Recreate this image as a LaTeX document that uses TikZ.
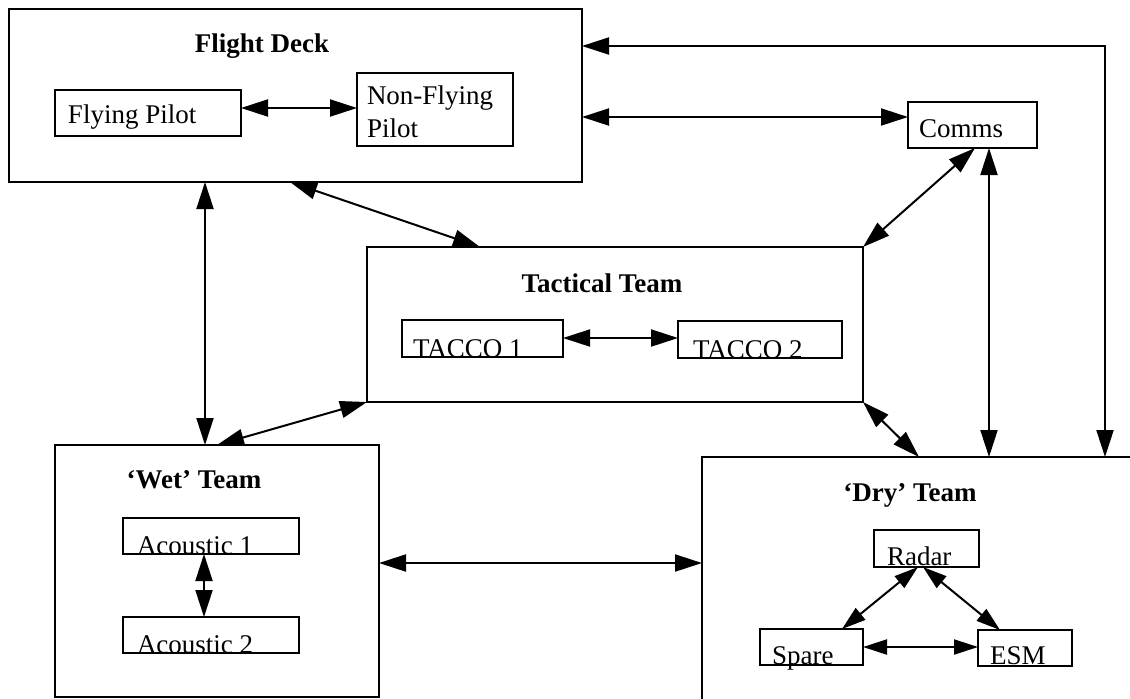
\documentclass[tikz,border=0pt]{standalone}
\usepackage{fontspec}
\setmainfont{Liberation Serif}
\usetikzlibrary{arrows.meta}
\begin{document}
\begin{tikzpicture}[x=0.5pt,y=-0.5pt,
  box/.style={draw, line width=1.3pt, inner sep=0pt, outer sep=0pt, anchor=north west},
  txt/.style={inner sep=0pt, outer sep=0pt, anchor=base west, font=\fontsize{13.5}{16.5}\selectfont},
  ttl/.style={inner sep=0pt, outer sep=0pt, anchor=base, font=\fontsize{13.5}{16.5}\selectfont\bfseries},
  tip/.style={Triangle[length=13.5pt,width=8.5pt]},
  arr/.style={line width=1pt, {Triangle[length=13.5pt,width=8.5pt]}-{Triangle[length=13.5pt,width=8.5pt]}},
  sarr/.style={line width=1pt, {Triangle[length=12pt,width=7.5pt]}-{Triangle[length=12pt,width=7.5pt]}}
]
\useasboundingbox (0,0) rectangle (1130,698);
\fill[white] (0,0) rectangle (1130,698);
\clip (0,0) rectangle (1130,698);

% Flight deck
\node[box, minimum width=286.5pt, minimum height=86.5pt] (fd) at (9,9) {};
\node[ttl] (fdt) at (262,52) {Flight Deck};
\node[box, minimum width=93pt, minimum height=23pt] (fp) at (55,90) {};
\node[txt] (fpt) at (68,123) {Flying Pilot};
\node[box, minimum width=78pt, minimum height=36.5pt] (nfp) at (357,73) {};
\node[txt, anchor=north west, align=left] (nfpt) at (367,86) {Non-Flying\\Pilot};

% Comms
\node[box, minimum width=64.5pt, minimum height=23pt] (cm) at (908,102) {};
\node[txt] (cmt) at (919,137) {Comms};

% Tactical team
\node[box, minimum width=248pt, minimum height=77.5pt] (tt) at (367,247) {};
\node[ttl] (ttt) at (602,292) {Tactical Team};
\node[box, minimum width=80.5pt, minimum height=18.5pt] (t1) at (402,320) {};
\node[txt] (t1t) at (413,357) {TACCO 1};
\node[box, minimum width=82pt, minimum height=18.5pt] (t2) at (678,321) {};
\node[txt] (t2t) at (693,358) {TACCO 2};

% Wet team
\node[box, minimum width=162pt, minimum height=126pt] (wet) at (55,445) {};
\node[ttl] (wett) at (194,488) {‘Wet’ Team};
\node[box, minimum width=88pt, minimum height=18pt] (a1) at (123,518) {};
\node[txt] (a1t) at (137,554) {Acoustic 1};
\node[box, minimum width=88pt, minimum height=18pt] (a2) at (123,617) {};
\node[txt] (a2t) at (137,653) {Acoustic 2};

% Dry team
\node[box, minimum width=219pt, minimum height=126.5pt] (dry) at (702,457) {};
\node[ttl] (dryt) at (910,501) {‘Dry’ Team};
\node[box, minimum width=52.5pt, minimum height=18.5pt] (rad) at (874,530) {};
\node[txt] (radt) at (887,565) {Radar};
\node[box, minimum width=51.5pt, minimum height=18pt] (spa) at (760,629) {};
\node[txt] (spat) at (772,664) {Spare};
\node[box, minimum width=47pt, minimum height=18pt] (esm) at (978,630) {};
\node[txt] (esmt) at (990,664) {ESM};

% connectors
\draw[arr] (fp.east |- 0,108) -- (nfp.west |- 0,108);
\draw[arr] (fd.east |- 0,117) -- (cm.west |- 0,117);
\draw[arr] (fd.east |- 0,46) -| (dry.north -| 1105,0);
\draw[arr] (cm.south -| 975,0) -- (tt.north east);
\draw[arr] (cm.south -| 989,0) -- (dry.north -| 989,0);
\draw[arr] (fd.south -| 290,0) -- (tt.north -| 480,0);
\draw[arr] (fd.south -| 205,0) -- (wet.north -| 205,0);
\draw[arr] (tt.south west) -- (wet.north -| 217,0);
\draw[arr] (tt.south east) -- (dry.north -| 919,0);
\draw[arr] (wet.east |- 0,563) -- (dry.west |- 0,563);
\draw[arr] (t1.east |- 0,338) -- (t2.west |- 0,338);
\draw[arr] (a1.south -| 204,0) -- (a2.north -| 204,0);
\draw[sarr] (rad.south -| 918,0) -- (spa.north -| 842,0);
\draw[sarr] (rad.south -| 923,0) -- (esm.north -| 1000,0);
\draw[sarr] (spa.east |- 0,647) -- (esm.west |- 0,647);
\end{tikzpicture}
\end{document}
